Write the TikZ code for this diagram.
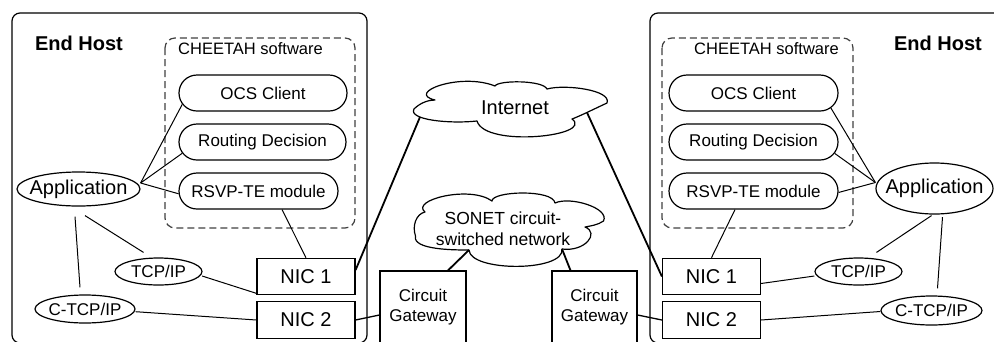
\documentclass[tikz,border=0pt]{standalone}
\usepackage{fontspec}
\setmainfont{Liberation Sans}
\usetikzlibrary{shapes.misc,shapes.geometric,calc}

\begin{document}
\begin{tikzpicture}[x=1pt,y=-1pt,
  fs/.style={font=\fontsize{17}{20}\selectfont},
  fl/.style={font=\fontsize{20}{24}\selectfont},
  hostframe/.style={draw, line width=1.2pt, rounded corners=8pt},
  swframe/.style={draw=black!75, line width=1.2pt, dash pattern=on 7pt off 4pt, rounded corners=10pt},
  pill/.style={rounded rectangle, draw, line width=1.2pt, minimum height=36pt, inner xsep=-4pt, inner ysep=0pt, fs},
  oval/.style={ellipse, draw, line width=1.2pt, inner xsep=-12pt, inner ysep=-4pt},
  nic/.style={rectangle, draw, line width=1.2pt, minimum width=98pt, minimum height=36.5pt, inner sep=0pt, fl},
  gateway/.style={rectangle, draw, line width=1.2pt, minimum width=86pt, minimum height=72pt, inner sep=0pt, align=center, fs},
  cloudline/.style={draw, line width=1.2pt, line join=round},
  wire/.style={line width=1pt},
  gwwire/.style={line width=1.3pt},
  thickwire/.style={line width=1.8pt},
]
\useasboundingbox (0,0) rectangle (994,341);
\clip (0,0) rectangle (994,341);

% host frames (cut at the picture edges)
\draw[hostframe] (12,13) rectangle (367,343);
\draw[hostframe] (650,13) rectangle (1010,343);

% CHEETAH software frames
\draw[swframe] (165,38) rectangle (355,228);
\draw[swframe] (662,38) rectangle (853,228);

% titles
\node[font=\fontsize{20}{24}\selectfont\bfseries] (hostL) at (79,43) {End Host};
\node[font=\fontsize{20}{24}\selectfont\bfseries] (hostR) at (938,43) {End Host};
\node[font=\fontsize{16.5}{20}\selectfont] (swL) at (250.5,49) {CHEETAH software};
\node[font=\fontsize{16.5}{20}\selectfont] (swR) at (766.5,49) {CHEETAH software};

% software modules, left host
\node[pill, minimum width=160pt] (ocsL) at (263,93) {OCS Client};
\node[pill, minimum width=159pt] (rdL) at (262.5,142) {Routing Decision};
\node[pill, minimum width=151pt] (rsvpL) at (258.5,191) {RSVP-TE module};
% software modules, right host
\node[pill, minimum width=161pt] (ocsR) at (753.5,93) {OCS Client};
\node[pill, minimum width=161pt] (rdR) at (753.5,142) {Routing Decision};
\node[pill, minimum width=161pt] (rsvpR) at (753.5,191) {RSVP-TE module};

% applications and protocol stacks
\node[oval, fl, minimum width=123pt, minimum height=34pt] (appL) at (78.5,189) {Application};
\node[oval, fl, minimum width=117pt, minimum height=51pt] (appR) at (934.5,188.5) {Application};
\node[oval, fs, minimum width=87pt, minimum height=27pt] (tcpL) at (158.5,271.5) {TCP/IP};
\node[oval, fs, minimum width=100pt, minimum height=28pt] (ctcpL) at (85,309) {C-TCP/IP};
\node[oval, fs, minimum width=87pt, minimum height=27pt] (tcpR) at (858.5,271.5) {TCP/IP};
\node[oval, fs, minimum width=101pt, minimum height=29pt] (ctcpR) at (931.5,310.5) {C-TCP/IP};

% network interface cards
\node[nic] (nic1L) at (306,276.5) {NIC 1};
\node[nic] (nic2L) at (306,320) {NIC 2};
\node[nic] (nic1R) at (711.5,276.5) {NIC 1};
\node[nic] (nic2R) at (711.5,320) {NIC 2};

% circuit gateways
\node[gateway] (gwL) at (423,307) {Circuit\\Gateway};
\node[gateway, minimum width=85pt] (gwR) at (594.5,307) {Circuit\\Gateway};

% Internet cloud
\draw[cloudline] (414,109) .. controls (420,103) and (428,100) .. (435,100)
  .. controls (405,93) and (460,72) .. (495,86)
  .. controls (498,80) and (543,80) .. (547,89)
  .. controls (565,84) and (612,90) .. (607,103)
  .. controls (592,110) and (580,116) .. (572,119)
  .. controls (595,136) and (485,148) .. (477,121)
  .. controls (450,124) and (408,120) .. (414,109) -- cycle;
\node[fl] (inet) at (515,108) {Internet};
\coordinate (inetL) at (420,117);
\coordinate (inetR) at (587,112.5);

% SONET cloud
\draw[cloudline] (415.5,236) .. controls (412,226) and (416,214) .. (425,212)
  .. controls (410,200) and (470,185) .. (492,201)
  .. controls (492,191) and (553,189) .. (555,203)
  .. controls (570,196) and (610,208) .. (603.5,221)
  .. controls (598,225) and (590,226) .. (585,227)
  .. controls (600,233) and (585,252) .. (562,249)
  .. controls (565,272) and (470,272) .. (469,250)
  .. controls (455,250) and (412,250) .. (415.5,236) -- cycle;
\node[font=\fontsize{17.5}{21}\selectfont, align=center] (sonet) at (503,228.5) {SONET circuit-\\switched network};
\coordinate (sonetL) at (469,250);
\coordinate (sonetR) at (562,249);

% left host connections
\draw[wire] ([yshift=6pt]appL.east) -- (ocsL.188);
\draw[wire] ([yshift=6pt]appL.east) -- (rdL.188);
\draw[wire] ([yshift=6pt]appL.east) -- (rsvpL.182);
\draw[wire] ($(appL.south)+(6.5,9)$) -- ($(tcpL.north)+(-15,-5)$);
\draw[wire] ($(appL.south)+(-3.5,10)$) -- ($(ctcpL.north)+(-5,-7)$);
\draw[wire] ($(tcpL.east)+(-0.5,4.5)$) -- ($(nic1L.south west)+(0,-2)$);
\draw[wire] ($(ctcpL.east)+(0,2.7)$) -- (nic2L.west);
\draw[wire] ($(rsvpL.south)+(23.5,0)$) -- (nic1L.north);
\draw[gwwire] (nic2L.east) -- ($(gwL.west)+(0,8)$);
\draw[thickwire] ($(nic1L.east)+(0,-6.5)$) -- (inetL);
\draw[thickwire] (sonetL) -- ($(gwL.north)+(25,0)$);

% right host connections
\draw[wire] ([yshift=6pt]appR.west) -- (ocsR.349);
\draw[wire] ([yshift=6pt]appR.west) -- (rdR.352);
\draw[wire] ([yshift=6pt]appR.west) -- (rsvpR.359);
\draw[wire] ($(appR.south)+(-3,1)$) -- ($(tcpR.north)+(18,-5)$);
\draw[wire] ($(appR.south)+(8,2.5)$) -- ($(ctcpR.north)+(6,-7)$);
\draw[wire] ($(nic1R.east)+(0,7)$) -- ($(tcpR.west)+(0,4.5)$);
\draw[wire] (nic2R.east) -- ($(ctcpR.west)+(0,1)$);
\draw[wire] ($(rsvpR.south)+(-18.5,0)$) -- (nic1R.north);
\draw[gwwire] ($(gwR.east)+(0,8)$) -- (nic2R.west);
\draw[thickwire] (inetR) -- (nic1R.west);
\draw[thickwire] (sonetR) -- ($(gwR.north)+(-24,0)$);
\end{tikzpicture}
\end{document}
